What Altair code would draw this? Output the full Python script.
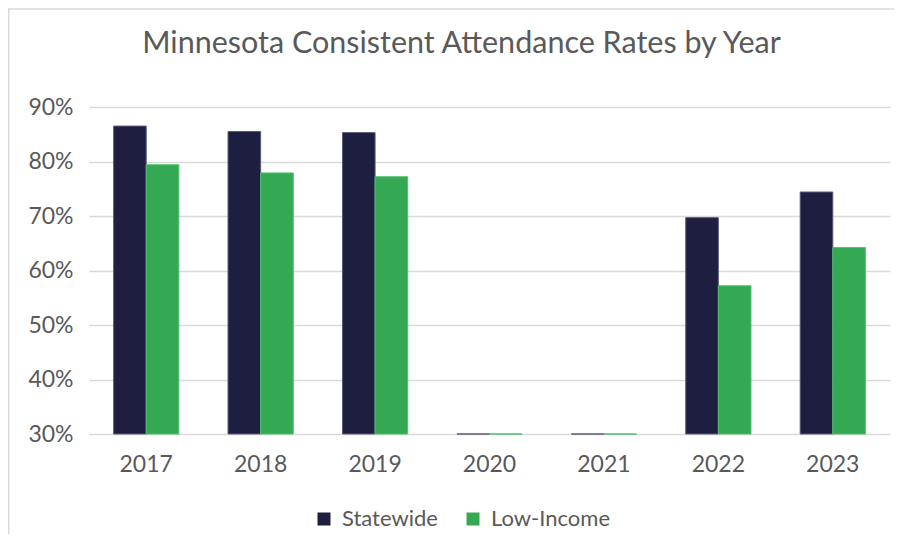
import altair as alt
import pandas as pd

years = ["2017", "2018", "2019", "2020", "2021", "2022", "2023"]
statewide = [0.865, 0.855, 0.853, 0.0, 0.0, 0.697, 0.744]
low_income = [0.794, 0.779, 0.772, 0.0, 0.0, 0.572, 0.642]
series = ["Statewide", "Low-Income"]
fill_colors = ["#1e1f40", "#35a853"]
stroke_colors = ["#5a5a7a", "#4fc06e"]
y_ticks = [0.3, 0.4, 0.5, 0.6, 0.7, 0.8, 0.9]

rows = []
for i, yr in enumerate(years):
    rows.append({"year": yr, "series": "Statewide", "rate": statewide[i]})
    rows.append({"year": yr, "series": "Low-Income", "rate": low_income[i]})
df = pd.DataFrame(rows)

text_color = "#595959"

bars = alt.Chart(df).mark_bar(strokeWidth=1).encode(
    x=alt.X(
        "year:N",
        sort=years,
        title=None,
        scale=alt.Scale(paddingInner=0.43, paddingOuter=0.215),
        axis=alt.Axis(
            labelAngle=0, labelFontSize=23, labelColor=text_color, labelFont="Lato",
            labelPadding=19, domain=False, ticks=False, grid=False,
        ),
    ),
    xOffset=alt.XOffset("series:N", sort=series,
                        scale=alt.Scale(domain=series, paddingInner=0, paddingOuter=0)),
    y=alt.Y(
        "rate:Q",
        title=None,
        scale=alt.Scale(domain=[0.3, 0.9], clamp=True, zero=False, nice=False),
        axis=alt.Axis(
            values=y_ticks, format=".0%", labelFontSize=23, labelColor=text_color,
            labelFont="Lato", labelPadding=16, domain=False, ticks=False,
            grid=True, gridColor="#d9d9d9", gridWidth=1.5,
        ),
    ),
    y2=alt.datum(0.3),
    color=alt.Color(
        "series:N",
        sort=series,
        scale=alt.Scale(domain=series, range=fill_colors),
        legend=alt.Legend(
            title=None, orient="none", legendX=224, legendY=401,
            direction="horizontal", symbolType="square", symbolSize=169,
            symbolStrokeWidth=0, labelFontSize=22, labelFont="Lato",
            labelColor=text_color, labelOffset=7, columnPadding=24, padding=0,
        ),
    ),
    stroke=alt.Stroke("series:N", sort=series,
                      scale=alt.Scale(domain=series, range=stroke_colors), legend=None),
)

# light frame around the chart (decorative)
frame_top = alt.Chart(pd.DataFrame({"a": [0]})).mark_rule(color="#d9d9d9", strokeWidth=1.5).encode(
    x=alt.value(-81), x2=alt.value(805), y=alt.value(-98)
)
frame_left = alt.Chart(pd.DataFrame({"a": [0]})).mark_rule(color="#d9d9d9", strokeWidth=1.5).encode(
    x=alt.value(-80.3), y=alt.value(-98), y2=alt.value(440)
)

chart = alt.layer(frame_top, frame_left, bars).properties(
    width=801,
    height=327,
    autosize=alt.AutoSizeParams(type="none"),
    padding={"left": 81, "top": 99, "right": 4, "bottom": 100},
    title=alt.TitleParams(
        "Minnesota Consistent Attendance Rates by Year",
        fontSize=30.5, font="Lato", fontWeight="normal", color=text_color,
        anchor="middle", dx=-28, offset=-51,
    ),
).configure_view(stroke=None)

chart.save("out.html", embed_options={"renderer": "svg", "actions": False})
